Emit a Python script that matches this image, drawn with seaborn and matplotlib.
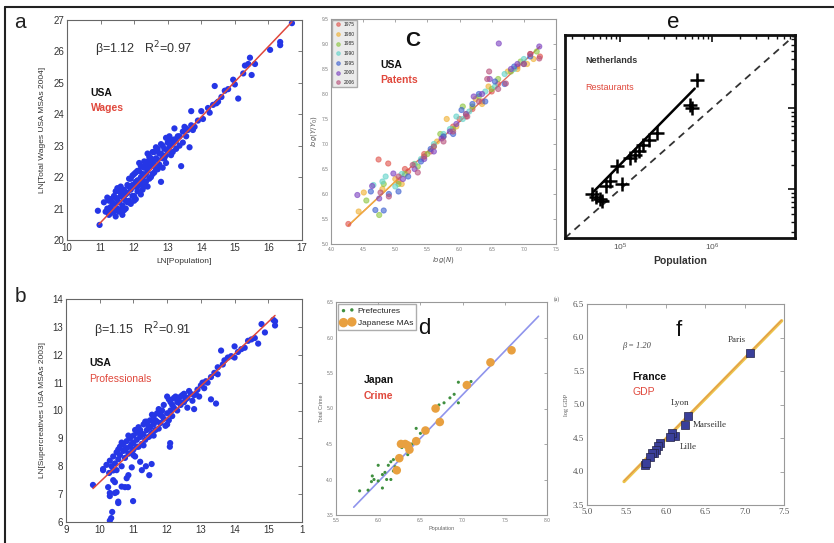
import numpy as np
import pandas as pd
import matplotlib
matplotlib.use("Agg")
import matplotlib.pyplot as plt
from matplotlib.lines import Line2D
import seaborn as sns

sns.set_style("white")
plt.rcParams["font.family"] = ["Liberation Sans", "DejaVu Sans"]

# ---------------- data ----------------
# (a) US wages vs population (ln)
a_beta, a_r2 = 1.12, 0.97
a_x0, a_y0 = 10.95, 20.5
a_pts = [
    (10.92, 20.93), (10.97, 20.48), (11.1, 21.2), (11.15, 20.9), (11.2, 21.0), (11.25, 20.8),
    (11.3, 21.3), (11.3, 21.05), (11.35, 20.95), (11.4, 21.4), (11.4, 21.15), (11.45, 20.75),
    (11.5, 21.3), (11.5, 21.0), (11.55, 21.55), (11.55, 21.2), (11.6, 20.95), (11.6, 21.4),
    (11.65, 21.1), (11.7, 21.6), (11.7, 21.3), (11.75, 21.0), (11.8, 21.5), (11.8, 21.75),
    (11.85, 21.25), (11.9, 21.6), (11.9, 21.95), (11.95, 21.4), (12.0, 21.7), (12.0, 22.1),
    (12.05, 21.3), (12.1, 21.9), (12.1, 21.55), (12.15, 22.2), (12.2, 21.8), (12.2, 22.0),
    (12.25, 21.6), (12.3, 22.3), (12.3, 22.05), (12.35, 21.85), (12.4, 22.5), (12.4, 22.2),
    (12.45, 21.95), (12.5, 22.35), (12.5, 22.6), (12.55, 22.1), (12.6, 22.4), (12.6, 22.8),
    (12.65, 22.25), (12.7, 22.55), (12.7, 22.9), (12.75, 22.4), (12.8, 21.85), (12.8, 22.75),
    (12.85, 23.0), (12.9, 22.6), (12.95, 23.25), (13.0, 22.85), (13.0, 23.1), (13.05, 23.3),
    (13.1, 22.7), (13.15, 23.05), (13.2, 23.2), (13.25, 22.9), (13.3, 23.3), (13.35, 23.0),
    (13.4, 22.35), (13.45, 23.45), (13.5, 23.6), (13.55, 23.3), (13.6, 23.5), (13.65, 22.95),
    (13.7, 24.1), (13.7, 23.65), (13.8, 23.6), (13.9, 23.8), (14.0, 24.1), (14.05, 23.85),
    (14.2, 24.2), (14.25, 24.05), (14.35, 24.3), (14.4, 24.9), (14.45, 24.35), (14.5, 24.4),
    (14.6, 24.55), (14.7, 24.75), (14.8, 24.8), (14.95, 25.1), (15.0, 24.95), (15.1, 24.5),
    (15.25, 25.3), (15.3, 25.55), (15.4, 25.6), (15.45, 25.8), (15.5, 25.25), (15.6, 25.6),
    (16.05, 26.05), (16.35, 26.3), (16.35, 26.2), (16.7, 26.9),
    (11.35, 21.2), (11.45, 21.35), (11.65, 21.5), (11.75, 21.25), (11.85, 21.7), (12.05, 21.85),
    (12.15, 21.75), (12.25, 22.1), (12.35, 22.4), (12.55, 22.5), (11.9, 21.15), (12.0, 21.4),
    (12.1, 22.2), (12.3, 21.7), (12.45, 22.65), (12.65, 22.95), (12.85, 22.3), (13.2, 23.55),
    (12.95, 22.45),
    (11.25, 21.25), (11.3, 20.85), (11.4, 20.9), (11.45, 21.55), (11.55, 20.9), (11.6, 21.7),
    (11.7, 20.95), (11.75, 21.45), (11.8, 21.2), (11.85, 21.95), (11.95, 21.75), (11.95, 22.05),
    (12.0, 21.25), (12.05, 22.15), (12.1, 21.7), (12.2, 22.35), (12.2, 21.45), (12.25, 21.95),
    (12.3, 22.5), (12.35, 22.1), (12.4, 21.7), (12.45, 22.35), (12.5, 22.0), (12.55, 22.8),
    (12.6, 22.15), (12.65, 22.6), (12.7, 22.25), (12.75, 22.75), (12.8, 23.05), (12.85, 22.6),
    (12.9, 22.9), (12.95, 22.7), (13.05, 22.95), (13.1, 23.2), (13.15, 22.8), (13.25, 23.15),
    (13.35, 23.3), (13.45, 23.1), (13.55, 23.55), (13.75, 23.5), (11.2, 21.35), (11.5, 21.65),
    (11.65, 20.8), (12.15, 22.45), (12.4, 22.75),
]

# (b) US supercreatives vs population (ln)
b_beta, b_r2 = 1.15, 0.91
b_x0, b_y0 = 9.8, 7.2
b_pts = [
    (9.8, 7.33), (10.25, 7.25), (10.3, 7.04), (10.3, 6.93), (10.45, 7.04), (10.5, 7.07),
    (10.55, 6.68), (10.37, 6.36), (10.34, 6.14), (10.3, 6.05), (10.75, 7.25), (10.84, 7.25),
    (10.99, 6.75), (10.45, 7.43), (10.95, 7.96), (11.2, 8.16), (11.37, 8.0), (11.47, 7.68),
    (11.54, 8.08), (11.25, 7.86), (10.85, 7.68), (10.8, 7.57), (10.65, 7.27), (10.4, 7.5),
    (10.55, 6.73), (12.09, 8.83), (12.08, 8.7), (10.1, 7.86), (10.28, 7.76), (10.5, 7.86),
    (13.3, 10.4), (13.45, 10.25),
    (10.1, 7.9), (10.2, 8.05), (10.3, 8.2), (10.35, 8.0), (10.4, 8.35), (10.45, 8.1),
    (10.5, 8.5), (10.55, 8.25), (10.6, 8.7), (10.6, 8.4), (10.65, 8.0), (10.7, 8.8),
    (10.7, 8.55), (10.75, 8.3), (10.8, 8.9), (10.8, 8.65), (10.85, 8.45), (10.9, 9.0),
    (10.9, 8.7), (10.95, 8.5), (11.0, 9.1), (11.0, 8.85), (11.0, 8.6), (11.05, 8.35),
    (11.1, 9.2), (11.1, 8.95), (11.15, 8.7), (11.2, 9.3), (11.2, 9.05), (11.25, 8.8),
    (11.3, 9.5), (11.3, 9.15), (11.35, 8.95), (11.4, 9.6), (11.4, 9.3), (11.45, 9.05),
    (11.5, 9.65), (11.5, 9.4), (11.55, 9.2), (11.6, 9.8), (11.6, 9.5), (11.65, 9.3),
    (11.7, 9.9), (11.7, 9.6), (11.75, 9.35), (11.8, 9.85), (11.8, 9.55), (11.85, 10.0),
    (11.9, 9.7), (11.95, 9.45), (12.0, 10.5), (12.0, 9.9), (12.05, 9.65), (12.1, 10.3),
    (12.1, 10.0), (12.15, 9.8), (12.2, 10.45), (12.2, 10.1), (12.3, 10.3), (12.3, 10.0),
    (12.4, 10.5), (12.4, 10.2), (12.5, 10.6), (12.5, 10.3), (12.6, 10.45), (12.7, 10.6),
    (12.8, 10.55), (12.8, 10.05), (12.9, 10.75), (13.0, 10.9), (13.1, 10.8), (13.15, 11.05),
    (13.2, 11.0), (13.3, 11.2), (13.4, 11.35), (13.5, 11.3), (13.5, 11.55), (13.6, 12.15),
    (13.65, 11.65), (13.7, 11.8), (13.8, 11.9), (13.9, 11.95), (14.0, 12.3), (14.0, 11.9),
    (14.1, 12.1), (14.2, 12.2), (14.3, 12.25), (14.4, 12.5), (14.5, 12.55), (14.6, 12.6),
    (14.7, 12.4), (14.8, 13.1), (14.9, 12.8), (15.2, 13.2), (15.2, 13.05), (15.15, 13.25),
    (12.6, 10.1), (12.0, 9.5), (11.3, 8.75), (11.5, 9.1),
    (10.55, 8.6), (10.65, 8.85), (10.75, 8.6), (10.85, 9.1), (10.95, 8.8), (11.05, 9.3),
    (11.1, 8.7), (11.15, 9.4), (11.25, 9.15), (11.35, 9.6), (11.45, 9.45), (11.55, 9.85),
    (11.65, 9.65), (11.75, 10.05), (11.85, 9.8), (11.9, 10.2), (12.05, 10.4), (12.15, 10.2),
    (12.25, 10.5), (12.35, 10.35), (12.45, 10.55), (12.55, 10.4), (12.65, 10.7), (12.75, 10.35),
    (12.85, 10.6), (12.95, 10.5), (13.05, 11.0), (11.6, 9.1), (11.0, 8.4), (10.4, 7.85),
]

# (c) US patents, log(Y/Y0) vs log(N), by year
c_years = ["1975", "1980", "1985", "1990", "1995", "2000", "2006"]
c_colors = ["#e0524a", "#f0b030", "#8cc63f", "#5fd3c9", "#3b5fd0", "#7a3fc0", "#b8507a"]
c_pts = {
    "1975": [(4.27, 5.40), (4.74, 6.69), (4.89, 6.61), (5.2, 6.45), (5.55, 6.85), (5.9, 7.35),
             (6.2, 7.7), (6.5, 8.05), (6.9, 8.55), (7.25, 8.75), (5.05, 6.25), (6.0, 7.5), (6.35, 7.85),
             (5.15, 6.5), (5.45, 6.8), (5.75, 7.15), (6.1, 7.55), (6.6, 8.2), (7.1, 8.8)],
    "1980": [(4.43, 5.65), (4.51, 6.03), (4.8, 6.1), (5.1, 6.2), (5.45, 6.75), (5.8, 7.5),
             (6.1, 7.6), (6.45, 8.15), (6.75, 8.45), (7.05, 8.6), (5.65, 7.05), (6.25, 7.9),
             (5.0, 6.3), (5.3, 6.6), (5.95, 7.35), (6.35, 7.8), (6.9, 8.5), (7.15, 8.7)],
    "1985": [(4.55, 5.87), (4.75, 5.58), (4.82, 6.2), (5.15, 6.4), (5.5, 6.8), (5.7, 7.2),
             (6.05, 7.75), (6.3, 7.95), (6.6, 8.3), (6.95, 8.65), (7.2, 8.85), (5.35, 6.55),
             (5.05, 6.2), (5.6, 6.95), (5.9, 7.3), (6.2, 7.75), (6.5, 8.1), (6.8, 8.45)],
    "1990": [(4.66, 6.18), (4.8, 6.25), (4.85, 6.35), (5.0, 6.15), (5.3, 6.6), (5.6, 7.0),
             (5.85, 7.3), (6.15, 7.65), (6.4, 8.05), (6.7, 8.4), (7.0, 8.7), (5.95, 7.55),
             (5.1, 6.4), (5.4, 6.7), (5.75, 7.2), (6.05, 7.5), (6.55, 8.15), (6.85, 8.5)],
    "1995": [(4.69, 5.68), (4.62, 6.05), (4.82, 5.67), (4.9, 6.0), (5.05, 6.05), (5.4, 6.65),
             (5.75, 7.15), (6.03, 7.68), (6.3, 8.0), (6.55, 8.25), (6.85, 8.55), (7.1, 8.75), (6.2, 7.8),
             (5.2, 6.35), (5.55, 6.9), (5.9, 7.2), (6.4, 7.85), (6.7, 8.2), (7.0, 8.6)],
    "2000": [(4.41, 5.98), (4.64, 6.16), (4.75, 5.91), (4.97, 6.41), (5.12, 6.3), (5.45, 6.7),
             (5.72, 7.11), (5.95, 7.4), (6.22, 7.95), (6.47, 8.3), (6.61, 9.01), (6.8, 8.5), (7.24, 8.95),
             (5.3, 6.5), (5.6, 6.85), (5.85, 7.25), (6.1, 7.6), (6.35, 8.0), (6.9, 8.6)],
    "2006": [(4.77, 6.03), (4.9, 5.95), (5.27, 6.58), (5.6, 6.95), (5.9, 7.25), (6.12, 7.55),
             (6.43, 8.3), (6.72, 8.21), (7.0, 8.6), (7.24, 8.71), (5.35, 6.43), (6.46, 8.45),
             (5.05, 6.35), (5.45, 6.75), (5.75, 7.05), (6.3, 7.85), (6.6, 8.1), (7.1, 8.8)],
}
c_fit_x = [4.27, 7.25]
c_fit_y = [5.37, 8.95]
c_fit_low_x = [4.27, 5.0]
c_fit_low_y = [5.37, 6.25]

# (d) Japan crime vs population
d_pref = [(5.78, 3.84), (5.88, 3.85), (5.92, 3.97), (5.95, 4.0), (5.93, 4.05), (6.0, 3.98),
          (6.05, 4.07), (6.08, 4.1), (6.05, 3.88), (6.1, 4.0), (6.12, 4.2), (6.15, 4.25),
          (6.18, 4.28), (6.18, 4.12), (6.2, 4.18), (6.28, 4.45), (6.3, 4.5), (6.35, 4.35),
          (6.4, 4.5), (6.45, 4.72), (6.5, 4.65), (6.72, 5.05), (6.78, 5.08), (6.85, 5.15),
          (6.9, 5.2), (6.95, 5.37), (6.95, 5.08), (7.1, 5.38), (6.0, 4.2), (6.15, 4.0)]
d_mas = [(7.58, 5.82), (7.33, 5.65), (7.05, 5.33), (6.68, 5.0), (6.73, 4.81), (6.56, 4.69),
         (6.45, 4.54), (6.37, 4.42), (6.32, 4.5), (6.27, 4.5), (6.25, 4.3), (6.22, 4.13), (6.35, 4.48)]
d_fit_x = [5.71, 7.90]
d_fit_y = [3.61, 6.30]

# (e) Netherlands restaurants (log10 values)
e_logpop = [4.69, 4.78, 4.74, 4.80, 4.85, 4.89, 4.96, 5.02, 5.11, 5.16, 5.20, 5.25, 5.31, 5.40, 5.76, 5.78, 5.83]
e_logrest = [4.94, 4.88, 4.91, 4.85, 5.04, 5.10, 5.29, 5.06, 5.38, 5.42, 5.47, 5.55, 5.61, 5.69, 6.04, 6.00, 6.35]
e_fit_x = [4.71, 5.81]
e_fit_y = [4.97, 6.24]

# (f) France GDP
f_beta = 1.20
f_x0, f_y0 = 5.47, 3.85
f_names = ["Paris", "Lyon", "Marseille", "Lille"]
f_pts = [(7.07, 5.77), (6.28, 4.83), (6.24, 4.70), (6.12, 4.53), (6.08, 4.58), (6.05, 4.52),
         (5.93, 4.42), (5.90, 4.38), (5.87, 4.32), (5.85, 4.28), (5.82, 4.27), (5.80, 4.22),
         (5.73, 4.10), (5.75, 4.12)]
f_label_pos = [(6.90, 5.96), (6.18, 5.02), (6.56, 4.69), (6.28, 4.37)]

# ---------------- figure ----------------
W, H = 834, 543
fig = plt.figure(figsize=(W / 100, H / 100), dpi=100)
fig.patch.set_facecolor("white")


def px_axes(left, top, right, bottom):
    return fig.add_axes([left / W, 1 - bottom / H, (right - left) / W, (bottom - top) / H])


def style_box(ax, color="#666666", lw=0.8, labelsize=7, labelcolor="#333333"):
    for s in ax.spines.values():
        s.set_color(color)
        s.set_linewidth(lw)
        s.set_visible(True)
    ax.tick_params(direction="in", top=True, right=True, length=3, width=0.6,
                   color=color, labelsize=labelsize, labelcolor=labelcolor, pad=2)


red = "#e0483c"
blue = "#2536e6"

# frame lines of the composite
fig.add_artist(Line2D([5 / W, 1], [1 - 7 / H, 1 - 7 / H], color="#222222", lw=1.5))
fig.add_artist(Line2D([5 / W, 5 / W], [0, 1 - 7 / H], color="#222222", lw=1.5))

# ---- (a)
ax = px_axes(67, 20, 302, 240)
da = pd.DataFrame(a_pts, columns=["lnpop", "lnwage"])
sns.scatterplot(data=da, x="lnpop", y="lnwage", ax=ax, color=blue, s=20, edgecolor="none", zorder=2)
fx = np.array([a_x0, 16.7])
sns.lineplot(x=fx, y=a_y0 + a_beta * (fx - a_x0), ax=ax, color=red, lw=1.1, zorder=3)
ax.set_xlim(10, 17)
ax.set_ylim(20, 27)
ax.set_xticks(range(10, 18))
ax.set_yticks(range(20, 28))
style_box(ax)
ax.set_xlabel("LN[Population]", fontsize=6, color="#333333", labelpad=4)
ax.set_ylabel("LN[Total Wages USA MSAs 2004]", fontsize=6, color="#333333", labelpad=5)
ax.text(0.12, 0.85, f"β={a_beta:.2f}   R$^2$={a_r2:.2f}", transform=ax.transAxes,
        fontsize=9, color="#333333")
ax.text(0.10, 0.655, "USA", transform=ax.transAxes, fontsize=7.5, fontweight="bold", color="#111111")
ax.text(0.10, 0.585, "Wages", transform=ax.transAxes, fontsize=7.5, fontweight="bold", color=red)
fig.text(20 / W, 1 - 22 / H, "a", fontsize=15, va="center", ha="center", color="#222222")

# ---- (b)
ax = px_axes(66, 299, 302, 522)
db = pd.DataFrame(b_pts, columns=["lnpop", "lnprof"])
sns.scatterplot(data=db, x="lnpop", y="lnprof", ax=ax, color=blue, s=20, edgecolor="none", zorder=2)
fx = np.array([b_x0, 15.2])
sns.lineplot(x=fx, y=b_y0 + b_beta * (fx - b_x0), ax=ax, color=red, lw=1.1, zorder=3)
ax.set_xlim(9, 16)
ax.set_ylim(6, 14)
ax.set_xticks(range(9, 17))
ax.set_xticklabels([str(v) for v in range(9, 16)] + ["1"])
ax.set_yticks(range(6, 15))
style_box(ax)
ax.set_xlabel("")
ax.set_ylabel("LN[Supercreatives USA MSAs 2003]", fontsize=6, color="#333333", labelpad=5)
ax.text(0.12, 0.84, f"β={b_beta:.2f}   R$^2$={b_r2:.2f}", transform=ax.transAxes,
        fontsize=9, color="#333333")
ax.text(0.10, 0.70, "USA", transform=ax.transAxes, fontsize=7.5, fontweight="bold", color="#111111")
ax.text(0.10, 0.63, "Professionals", transform=ax.transAxes, fontsize=7.5, color=red)
fig.text(20 / W, 1 - 296 / H, "b", fontsize=15, va="center", ha="center", color="#222222")

# ---- (c)
ax = px_axes(331, 19, 556, 244)
rows = [(x, y, yr) for yr in c_years for (x, y) in c_pts[yr]]
dc = pd.DataFrame(rows, columns=["logN", "logY", "year"])
sns.lineplot(x=c_fit_x, y=c_fit_y, ax=ax, color="#e07060", lw=1.0, zorder=1)
sns.lineplot(x=c_fit_low_x, y=c_fit_low_y, ax=ax, color="#f0b040", lw=1.0, zorder=1)
sns.scatterplot(data=dc, x="logN", y="logY", hue="year", hue_order=c_years,
                palette=dict(zip(c_years, c_colors)), ax=ax, s=14, alpha=0.6,
                edgecolor="face", linewidth=0.7, zorder=2)
ax.set_xlim(4.0, 7.5)
ax.set_ylim(5.0, 9.5)
ax.set_xticks(np.arange(4.0, 7.51, 0.5))
ax.set_yticks(np.arange(5.0, 9.51, 0.5))
style_box(ax, color="#999999", labelsize=3.5, labelcolor="#777777")
ax.tick_params(length=2)
ax.set_xlabel("$log(N)$", fontsize=5, color="#555555", labelpad=2)
ax.set_ylabel("$log(Y/Y_0)$", fontsize=5, color="#555555", labelpad=2)
ax.legend(loc="upper left", fontsize=3.5, scatterpoints=2, markerscale=0.7, frameon=True,
          facecolor="#e6e6e6", edgecolor="#999999", borderpad=0.5, labelspacing=0.95,
          handletextpad=0.4, borderaxespad=0.15, handlelength=1.6, fancybox=False)
ax.text(0.33, 0.88, "C", transform=ax.transAxes, fontsize=15, fontweight="bold", color="#111111")
ax.text(0.22, 0.78, "USA", transform=ax.transAxes, fontsize=7.5, fontweight="bold", color="#111111")
ax.text(0.22, 0.715, "Patents", transform=ax.transAxes, fontsize=7.5, fontweight="bold", color=red)

# ---- (d)
ax = px_axes(336, 302, 547, 515)
dp = pd.DataFrame(d_pref, columns=["pop", "crime"])
dm = pd.DataFrame(d_mas, columns=["pop", "crime"])
sns.lineplot(x=d_fit_x, y=d_fit_y, ax=ax, color="#8f94ec", lw=1.2, zorder=1)
sns.scatterplot(data=dp, x="pop", y="crime", ax=ax, color="#3f8f3f", s=5, edgecolor="none",
                label="Prefectures", zorder=2)
sns.scatterplot(data=dm, x="pop", y="crime", ax=ax, color="#e8a040", s=38, edgecolor="none",
                label="Japanese MAs", zorder=3)
ax.set_xlim(5.5, 8.0)
ax.set_ylim(3.5, 6.5)
ax.set_xticks(np.arange(5.5, 8.01, 0.5))
ax.set_yticks(np.arange(3.5, 6.51, 0.5))
style_box(ax, color="#999999", labelsize=3.5, labelcolor="#777777")
ax.tick_params(length=2)
ax.set_xlabel("Population", fontsize=4, color="#666666", labelpad=2)
ax.set_ylabel("Total Crime", fontsize=4, color="#666666", labelpad=2)
ax.legend(loc="upper left", fontsize=6, scatterpoints=2, markerscale=1.1, frameon=True,
          facecolor="white", edgecolor="#999999", borderpad=0.4, labelspacing=0.5,
          handletextpad=0.4, borderaxespad=0.2, handlelength=1.6, fancybox=False)
ax.text(0.39, 0.85, "d", transform=ax.transAxes, fontsize=16, color="#111111")
ax.text(0.13, 0.62, "Japan", transform=ax.transAxes, fontsize=7.5, fontweight="bold", color="#111111")
ax.text(0.13, 0.545, "Crime", transform=ax.transAxes, fontsize=7.5, fontweight="bold", color=red)

# ---- (e)
ax = px_axes(565, 35, 795, 238)
de = pd.DataFrame({"pop": np.power(10.0, e_logpop), "rest": np.power(10.0, e_logrest)})
ax.set_xscale("log")
ax.set_yscale("log")
lim = (10 ** 4.4, 10 ** 6.9)
sns.lineplot(x=list(lim), y=list(lim), ax=ax, color="#333333", lw=1.3, linestyle=(0, (4, 3)), zorder=1)
sns.lineplot(x=np.power(10.0, e_fit_x), y=np.power(10.0, e_fit_y), ax=ax, color="black", lw=1.8, zorder=2)
sns.scatterplot(data=de, x="pop", y="rest", ax=ax, marker="+", color="black", s=90,
                linewidth=1.8, zorder=3)
ax.set_xlim(*lim)
ax.set_ylim(*lim)
for s in ax.spines.values():
    s.set_color("#111111")
    s.set_linewidth(2.0)
ax.tick_params(which="both", direction="in", top=True, right=True, color="#111111",
               labelsize=6, labelcolor="#555555", labelleft=False, pad=3)
ax.tick_params(which="major", length=5, width=1.2)
ax.tick_params(which="minor", length=3, width=1.0)
ax.set_xlabel("Population", fontsize=7.5, fontweight="bold", color="#333333", labelpad=2)
ax.set_ylabel("")
ax.text(0.09, 0.86, "Netherlands", transform=ax.transAxes, fontsize=6.5, fontweight="bold", color="#333333")
ax.text(0.09, 0.73, "Restaurants", transform=ax.transAxes, fontsize=6.5, color=red)
fig.text(673 / W, 1 - 22 / H, "e", fontsize=16, va="center", ha="center", color="#111111")

# ---- (f)
ax = px_axes(587, 304, 784, 505)
df = pd.DataFrame(f_pts, columns=["lpop", "lgdp"])
fx = np.array([f_x0, 7.47])
sns.lineplot(x=fx, y=f_y0 + f_beta * (fx - f_x0), ax=ax, color="#ecc44a", lw=2.4, zorder=1)
sns.lineplot(x=fx, y=f_y0 + f_beta * (fx - f_x0) + 0.01, ax=ax, color="#e08a50", lw=0.6, zorder=1)
sns.scatterplot(data=df, x="lpop", y="lgdp", ax=ax, marker="s", color="#3a3f9a", s=30,
                edgecolor="#222244", linewidth=0.5, zorder=3)
for name, (tx, ty) in zip(f_names, f_label_pos):
    ax.text(tx, ty, name, fontsize=6.5, family="Liberation Serif", color="#333333", ha="center", va="center")
ax.set_xlim(5.0, 7.5)
ax.set_ylim(3.5, 6.5)
ax.set_xticks(np.arange(5.0, 7.51, 0.5))
ax.set_yticks(np.arange(3.5, 6.51, 0.5))
style_box(ax, color="#999999", labelsize=6.5, labelcolor="#555555")
for lab in ax.get_xticklabels() + ax.get_yticklabels():
    lab.set_family("Liberation Serif")
ax.set_xlabel("")
ax.set_ylabel("log GDP", fontsize=4.5, family="Liberation Serif", color="#555555", labelpad=3)
ax.text(0.18, 0.78, f"β = {f_beta:.2f}", transform=ax.transAxes, fontsize=6,
        family="Liberation Serif", style="italic", color="#444444")
ax.text(0.45, 0.84, "f", transform=ax.transAxes, fontsize=16, color="#111111")
ax.text(0.23, 0.62, "France", transform=ax.transAxes, fontsize=7.5, fontweight="bold", color="#111111")
ax.text(0.23, 0.545, "GDP", transform=ax.transAxes, fontsize=7.5, color=red)
fig.text(557 / W, 1 - 299 / H, "(a)", fontsize=4, family="Liberation Serif", color="#555555",
         va="center", ha="center")

fig.savefig("out.png", dpi=100, facecolor="white")
